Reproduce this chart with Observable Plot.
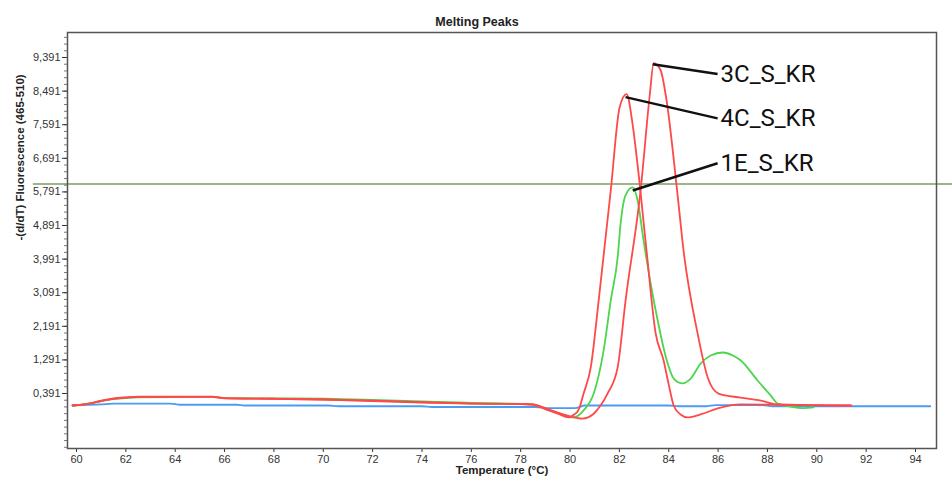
<!DOCTYPE html>
<html><head><meta charset="utf-8">
<script src="https://cdn.jsdelivr.net/npm/d3@7"></script>
<script src="https://cdn.jsdelivr.net/npm/@observablehq/plot@0.6"></script>
<style>body{margin:0;background:#fff} svg{display:block}</style>
</head><body><div id="chart"></div>
<script>
const title = "Melting Peaks";
const xLabel = "Temperature (°C)";
const yLabel = "-(d/dT) Fluorescence (465-510)";
const xTicks = [60,62,64,66,68,70,72,74,76,78,80,82,84,86,88,90,92,94];
const yTicks = [0.391,1.291,2.191,3.091,3.991,4.891,5.791,6.691,7.591,8.491,9.391];
const threshold = 6.0;

const seriesNames = ["Blue", "1E_S_KR", "4C_S_KR", "3C_S_KR"];
const seriesColors = ["#4b9bf2", "#4cd64c", "#ff4848", "#ff4848"];

const tBlue = [59.84,61,61.5,63.8,64.2,66.5,66.8,70.2,70.6,74,74.4,78.6,79.2,80.2,80.6,84,84.4,85.5,85.9,87.8,88.2,94.6];
const vBlue = [0.07,0.1,0.12,0.12,0.09,0.09,0.07,0.07,0.05,0.05,0.03,0.03,0.0,0.0,0.07,0.07,0.05,0.05,0.08,0.08,0.05,0.05];

const t1E = [59.84,60.5,61,61.5,62,62.5,65.5,66,68,70,72,74,76,77,78,78.5,79,79.5,80.15,80.55,80.96,81.36,81.65,81.93,82.05,82.25,82.54,82.74,82.98,83.47,83.96,84.2,84.56,84.89,85.29,85.7,86.19,86.6,86.91,87.6,88.13,88.41,88.94,89.47,89.87];
const v1E = [0.07,0.12,0.19,0.24,0.27,0.29,0.30,0.27,0.26,0.25,0.22,0.18,0.14,0.13,0.11,0.10,-0.02,-0.13,-0.25,-0.06,0.39,1.54,2.88,4.04,4.95,5.7,5.91,5.56,4.49,2.62,1.19,0.79,0.66,0.79,1.19,1.41,1.49,1.41,1.28,0.74,0.34,0.12,0.04,0.0,0.02];

const t4C = [59.84,60.5,61,61.5,62,62.5,65.5,66,68,70,72,74,76,78,78.5,79,79.5,79.95,80.15,80.35,80.55,80.84,81.16,81.65,82.01,82.29,82.54,82.74,83.1,83.47,83.79,83.99,84.2,84.48,84.77,85.29,85.98,86.91,88.5,91.4];
const v4C = [0.07,0.12,0.19,0.25,0.28,0.30,0.30,0.26,0.25,0.23,0.19,0.15,0.12,0.11,0.09,-0.03,-0.15,-0.25,-0.18,-0.04,0.39,1.09,2.88,5.83,8.06,8.41,7.58,6.5,4.22,2.0,1.28,0.66,0.07,-0.17,-0.25,-0.17,-0.01,0.10,0.09,0.07];

const t3C = [59.84,60.5,61,61.5,62,62.5,65.5,66,68,70,72,74,76,78,78.5,79,79.5,80,80.5,80.96,81.25,81.52,81.93,82.25,82.86,83.23,83.39,83.67,83.88,84.36,84.6,85.17,85.58,86.02,86.91,87.73,88.41,91.37];
const v3C = [0.07,0.12,0.2,0.26,0.29,0.31,0.31,0.27,0.25,0.23,0.2,0.16,0.12,0.11,0.10,0.0,-0.12,-0.22,-0.28,-0.15,0.08,0.39,1.09,2.88,5.83,8.38,9.24,9.05,8.38,5.7,4.22,2.0,0.82,0.39,0.28,0.2,0.1,0.07];

const annNames = ["3C_S_KR", "4C_S_KR", "1E_S_KR"];
const annPeakT = [83.35, 82.25, 82.54];
const annPeakV = [9.21, 8.33, 5.83];
const annLabelT = [85.98, 85.98, 85.98];
const annLabelV = [8.95, 7.76, 6.56];

const seriesT = [tBlue, t1E, t4C, t3C];
const seriesV = [vBlue, v1E, v4C, v3C];
const rows = [];
seriesNames.forEach((s, i) => seriesT[i].forEach((t, j) => rows.push({series: s, t, v: seriesV[i][j]})));
const ann = annNames.map((n, i) => ({name: n, pt: annPeakT[i], pv: annPeakV[i], lt: annLabelT[i], lv: annLabelV[i]}));
const minor = d3.range(-8, 54).map(k => +(0.391 + 0.18 * k).toFixed(3)).filter(v => v > -1.082 && v < 10.061);

const chart = Plot.plot({
  width: 952, height: 479,
  marginLeft: 67, marginRight: 16, marginTop: 32, marginBottom: 31,
  style: {fontFamily: "'Liberation Sans', Arial, sans-serif", fontSize: "11px", color: "#333", background: "#fff"},
  x: {domain: [59.635, 94.851]},
  y: {domain: [-1.082, 10.061]},
  color: {domain: seriesNames, range: seriesColors},
  marks: [
    Plot.ruleY([threshold], {x1: 58.25, x2: 95.8, stroke: "#9fb587", strokeWidth: 2}),
    Plot.axisY(minor, {tickSize: 3, tickFormat: () => "", label: null, stroke: "#777"}),
    Plot.axisY(yTicks, {tickSize: 5, tickPadding: 2, tickFormat: d => d.toFixed(3).replace(".", ","), label: null, fill: "#333"}),
    Plot.axisX(xTicks, {tickSize: 4, tickPadding: 3, label: null, fill: "#333"}),
    Plot.text([yLabel], {frameAnchor: "left", rotate: -90, dx: -47, fontWeight: "bold", fontSize: 11.5, fill: "#222"}),
    Plot.text([xLabel], {frameAnchor: "bottom", dy: 25, fontWeight: "bold", fontSize: 11.5, fill: "#222"}),
    Plot.text([title], {frameAnchor: "top", dx: -25, dy: -15, fontWeight: "bold", fontSize: 12.5, fill: "#222", style: {letterSpacing: "0.4px"}}),
    Plot.line(rows, {x: "t", y: "v", z: "series", stroke: "series", strokeWidth: 1.8, strokeLinejoin: "round", curve: "monotone-x"}),
    Plot.frame({stroke: "#555", strokeWidth: 1.5}),
    Plot.link(ann, {x1: "pt", y1: "pv", x2: "lt", y2: "lv", stroke: "#111", strokeWidth: 2.5}),
    Plot.text(ann, {x: "lt", y: "lv", text: "name", textAnchor: "start", dx: 3, fontSize: 24, fontFamily: "Roboto", fill: "#111"})
  ]
});
document.getElementById("chart").append(chart);
</script>
</body></html>
